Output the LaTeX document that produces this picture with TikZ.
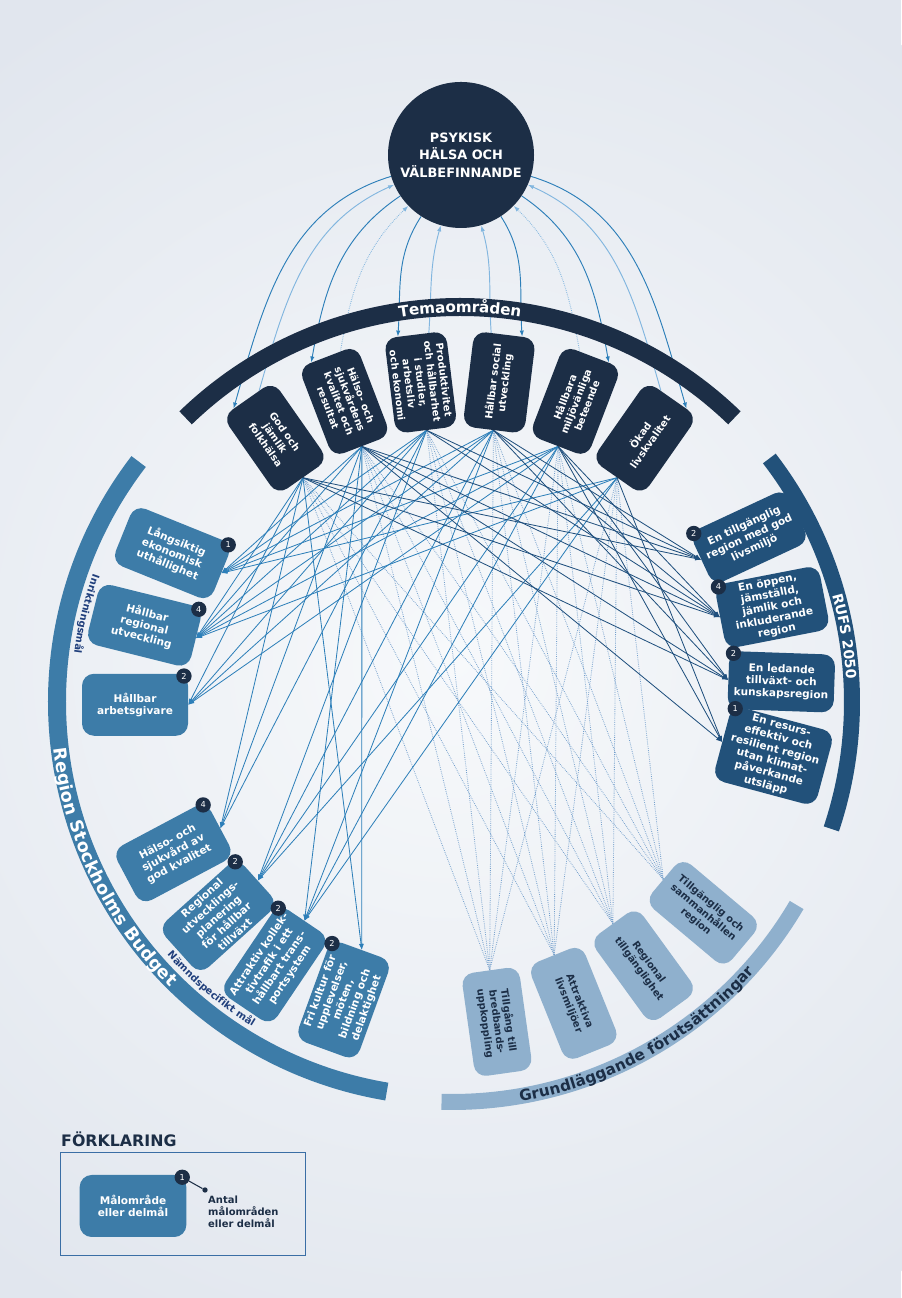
\documentclass[tikz,border=0pt]{standalone}
\usepackage{fontspec}
\setmainfont{DejaVu Sans}
\usetikzlibrary{calc,arrows.meta,decorations.text}

\definecolor{paper}{HTML}{E1E6EE}
\definecolor{paperlight}{HTML}{F7F9FB}
\definecolor{navy}{HTML}{1C2E46}
\definecolor{budgetblue}{HTML}{3D7CA8}
\definecolor{rufsblue}{HTML}{22517A}
\definecolor{grundblue}{HTML}{8FB0CD}
\definecolor{labelblue}{HTML}{203F7C}
\definecolor{linelight}{HTML}{2D7FB9}
\definecolor{linedark}{HTML}{1F4F7D}
\definecolor{dotline}{HTML}{739FCC}
\definecolor{toplight}{HTML}{82B6DF}
\definecolor{frameblue}{HTML}{3A6EA5}

\pgfdeclarelayer{back}
\pgfdeclarelayer{lines}
\pgfsetlayers{back,lines,main}

\tikzset{
  box/.style={rounded corners=3.6mm, align=center, inner sep=0.8mm,
    font=\fontsize{9}{10.5}\selectfont\bfseries},
  tema/.style={box, fill=navy, text=white, minimum width=28.8mm,
    minimum height=18.6mm, font=\fontsize{8.5}{10}\selectfont\bfseries},
  budget/.style={box, fill=budgetblue, text=white, minimum width=31.8mm,
    minimum height=18.6mm},
  rufs/.style={box, fill=rufsblue, text=white, minimum width=31.8mm,
    minimum height=17.4mm},
  grund/.style={box, fill=grundblue, text=navy, minimum width=31.2mm,
    minimum height=17.4mm, font=\fontsize{8.5}{10}\selectfont\bfseries},
  badge/.style={circle, fill=navy, text=white, inner sep=0pt,
    minimum size=4.6mm, font=\fontsize{7}{7}\selectfont},
  headed/.style={-{Latex[length=1.8mm,width=1.3mm]}},
  conn/.style={headed, line width=0.7pt},
  topline/.style={headed, color=linelight, line width=0.8pt},
  ret/.style={headed, color=toplight, line width=0.8pt},
  retdot/.style={headed, color=toplight, line width=0.8pt, dash pattern=on 0.6pt off 1pt},
  dots/.style={draw=dotline, line width=0.7pt, dash pattern=on 0.6pt off 1pt},
}

\begin{document}
\begin{tikzpicture}[x=0.3mm,y=0.3mm]
  \useasboundingbox (0,0) rectangle (901,1298);
  \coordinate (C) at (452,596);
  \coordinate (Ct) at (460,596);

  \begin{pgfonlayer}{back}
    \fill[paper] (0,0) rectangle (901,1298);
    \shade[inner color=paperlight, outer color=paper] (452,640) circle (760);
  \end{pgfonlayer}

  % bands round the picture
  \draw[navy, line width=5.4mm] ($(Ct)+(134:395)$) arc[start angle=134, end angle=46, radius=395];
  \draw[budgetblue, line width=5.4mm] ($(C)+(142.5:395)$) arc[start angle=142.5, end angle=260.5, radius=395];
  \draw[rufsblue, line width=4.8mm] ($(C)+(37.5:400)$) arc[start angle=37.5, end angle=-18.5, radius=400];
  \draw[grundblue, line width=4.8mm] ($(C)+(-91.5:400)$) arc[start angle=-91.5, end angle=-30.5, radius=400];

  \path[decorate, decoration={text along path, text align=center, raise=-4.6pt,
      text={|\color{white}\fontsize{13}{13}\selectfont\bfseries|Temaområden}}]
    ($(Ct)+(134:395)$) arc[start angle=134, end angle=46, radius=395];
  \path[decorate, decoration={text along path, text align=center, raise=-5.4pt,
      text={|\color{white}\fontsize{15}{15}\selectfont\bfseries|Region Stockholms Budget}}]
    ($(C)+(168:395)$) arc[start angle=168, end angle=244, radius=395];
  \path[decorate, decoration={text along path, text align=center, raise=-4.4pt,
      text={|\color{white}\fontsize{12}{12}\selectfont\bfseries|RUFS 2050}}]
    ($(C)+(40:400)$) arc[start angle=40, end angle=-21, radius=400];
  \path[decorate, decoration={text along path, text align=center, raise=-4.7pt,
      text={|\color{navy}\fontsize{13}{13}\selectfont\bfseries|Grundläggande förutsättningar}}]
    ($(C)+(-96:400)$) arc[start angle=-96, end angle=-26, radius=400];
  \path[decorate, decoration={text along path, text align=center,
      text={|\color{labelblue}\fontsize{8.5}{8.5}\selectfont\bfseries|Inriktningsmål}}]
    ($(C)+(150:381)$) arc[start angle=150, end angle=183, radius=381];
  \path[decorate, decoration={text along path, text align=center,
      text={|\color{labelblue}\fontsize{8.5}{8.5}\selectfont\bfseries|Nämndspecifikt mål}}]
    ($(C)+(213:381)$) arc[start angle=213, end angle=247, radius=381];

  \node[circle, fill=navy, text=white, minimum size=43.8mm, inner sep=0pt, align=center,
    font=\fontsize{11}{15}\selectfont\bfseries] (psyk) at (461,1143)
    {PSYKISK\\HÄLSA OCH\\VÄLBEFINNANDE};

  % temaområden
  \node[tema, rotate=-55] (god) at ($(Ct)+(125:322)$) {God och\\jämlik\\folkhälsa};
  \node[tema, rotate=-69] (hals) at ($(Ct)+(111:322)$) {Hälso- och\\sjukvårdens\\kvalitet och\\resultat};
  \node[tema, rotate=-83] (prod) at ($(Ct)+(97:322)$) {Produktivitet\\och hållbarhet\\i studier,\\arbetsliv\\och ekonomi};
  \node[tema, rotate=83] (social) at ($(Ct)+(83:322)$) {Hållbar social\\utveckling};
  \node[tema, rotate=69] (miljo) at ($(Ct)+(69:322)$) {Hållbara\\miljövänliga\\beteende};
  \node[tema, rotate=55] (okad) at ($(Ct)+(55:322)$) {Ökad\\livskvalitet};

  % budget
  \node[budget, rotate=-22] (lang) at ($(C)+(152:317)$) {Långsiktig\\ekonomisk\\uthållighet};
  \node[budget, rotate=-14] (hreg) at ($(C)+(166:317)$) {Hållbar\\regional\\utveckling};
  \node[budget, rotate=0] (arb) at ($(C)+(180.5:317)$) {Hållbar\\arbetsgivare};
  \node[budget, rotate=28] (hsgod) at ($(C)+(208.5:317)$) {Hälso- och\\sjukvård av\\god kvalitet};
  \node[budget, rotate=42] (regutv) at ($(C)+(222.5:317)$) {Regional\\utvecklings-\\planering\\för hållbar\\tillväxt};
  \node[budget, rotate=56] (attr) at ($(C)+(236:317)$) {Attraktiv kollek-\\tivtrafik i ett\\hållbart trans-\\portsystem};
  \node[budget, rotate=70] (kultur) at ($(C)+(250:317)$) {Fri kultur för\\upplevelser,\\möten,\\bildning och\\delaktighet};

  % rufs
  \node[rufs, rotate=25] (tillg) at ($(C)+(29:340)$) {En tillgänglig\\region med god\\livsmiljö};
  \node[rufs, rotate=11] (oppen) at ($(C)+(16.5:334)$) {En öppen,\\jämställd,\\jämlik och\\inkluderande\\region};
  \node[rufs, rotate=-2] (ledande) at ($(C)+(3.5:330)$) {En ledande\\tillväxt- och\\kunskapsregion};
  \node[rufs, rotate=-15] (resurs) at ($(C)+(-9.5:326)$) {En resurs-\\effektiv och\\resilient region\\utan klimat-\\påverkande\\utsläpp};

  % grundläggande
  \node[grund, rotate=-82] (bred) at ($(C)+(-82:323)$) {Tillgång till\\bredbands-\\uppkoppling};
  \node[grund, rotate=-68] (attrl) at ($(C)+(-68:325)$) {Attraktiva\\livsmiljöer};
  \node[grund, rotate=-54] (regt) at ($(C)+(-54:326)$) {Regional\\tillgänglighet};
  \node[grund, rotate=-40] (tsam) at ($(C)+(-40:328)$) {Tillgänglig och\\sammanhållen\\region};

  \foreach \bx/\num in {lang/1, hreg/4, arb/2, hsgod/4, regutv/2, attr/2, kultur/2}
    \node[badge] (\bx-nr) at ($(\bx.north east)!1.5mm!(\bx.center)$) {\num};
  \foreach \bx/\num in {tillg/2, oppen/4, ledande/2, resurs/1}
    \node[badge] (\bx-nr) at ($(\bx.north west)!1.5mm!(\bx.center)$) {\num};

  \foreach \nm in {god, hals, prod}
    \coordinate (\nm-in) at (\nm.east);
  \foreach \nm in {social, miljo, okad}
    \coordinate (\nm-in) at (\nm.west);

  \begin{pgfonlayer}{lines}
    % to and from the circle
    \foreach \nm/\sa/\ra/\ia/\st in {god/197/204/74/ret, hals/214/224/80/retdot, prod/237/254/86/ret}{
      \draw[topline] (psyk.\sa) to[out=\sa, in=\ia] ($(\nm.west)!0.55!(\nm.south west)$);
      \draw[\st] ($(\nm.west)!0.45!(\nm.north west)$) to[out=\ia, in=\ra] (psyk.\ra);
    }
    \foreach \nm/\sa/\ra/\ia/\st in {social/303/286/94/ret, miljo/326/316/100/retdot, okad/343/336/106/ret}{
      \draw[topline] (psyk.\sa) to[out=\sa, in=\ia] ($(\nm.east)!0.55!(\nm.south east)$);
      \draw[\st] ($(\nm.east)!0.45!(\nm.north east)$) to[out=\ia, in=\ra] (psyk.\ra);
    }

    \foreach \g in {bred, attrl, regt, tsam}
      \foreach \s in {god, hals, prod, social, miljo, okad}
        \draw[dots] (\g.west) -- (\s-in);

    \foreach \s/\t in {hals/lang, prod/lang, social/lang, miljo/lang, okad/lang,
        god/hreg, hals/hreg, prod/hreg, social/hreg, miljo/hreg, okad/hreg,
        god/arb, prod/arb, social/arb, miljo/arb,
        god/hsgod, hals/hsgod, prod/hsgod,
        prod/regutv, social/regutv, miljo/regutv, okad/regutv,
        hals/attr, social/attr, miljo/attr, okad/attr,
        god/kultur, hals/kultur}
      \draw[conn, color=linelight] (\s-in) -- (\t.east);

    \foreach \s/\t in {god/tillg, hals/tillg, prod/tillg, social/tillg,
        god/oppen, hals/oppen, prod/oppen, social/oppen, miljo/oppen,
        god/ledande, hals/ledande, social/ledande, miljo/ledande,
        hals/resurs, miljo/resurs, okad/resurs}
      \draw[conn, color=linedark] (\s-in) -- (\t.west);
  \end{pgfonlayer}

  % förklaring
  \node[anchor=south west, inner sep=0pt, text=navy,
    font=\fontsize{13.5}{14}\selectfont\bfseries] (forkl) at (61,151) {FÖRKLARING};
  \draw[frameblue, line width=0.7pt] (60,43) rectangle (305,146);
  \node[budget, minimum width=32mm] (legbox) at (133,92) {Målområde\\eller delmål};
  \node[badge] (legnr) at ($(legbox.north east)!1.5mm!(legbox.center)$) {1};
  \node[circle, fill=navy, inner sep=0pt, minimum size=1.6mm] (legdot) at (205,108) {};
  \draw[navy, line width=0.9pt] (legnr) -- (legdot);
  \node[anchor=north west, align=left, inner sep=0pt, text=navy,
    font=\fontsize{8.5}{10}\selectfont\bfseries] (legtext) at (208,102)
    {Antal\\målområden\\eller delmål};
\end{tikzpicture}
\end{document}
